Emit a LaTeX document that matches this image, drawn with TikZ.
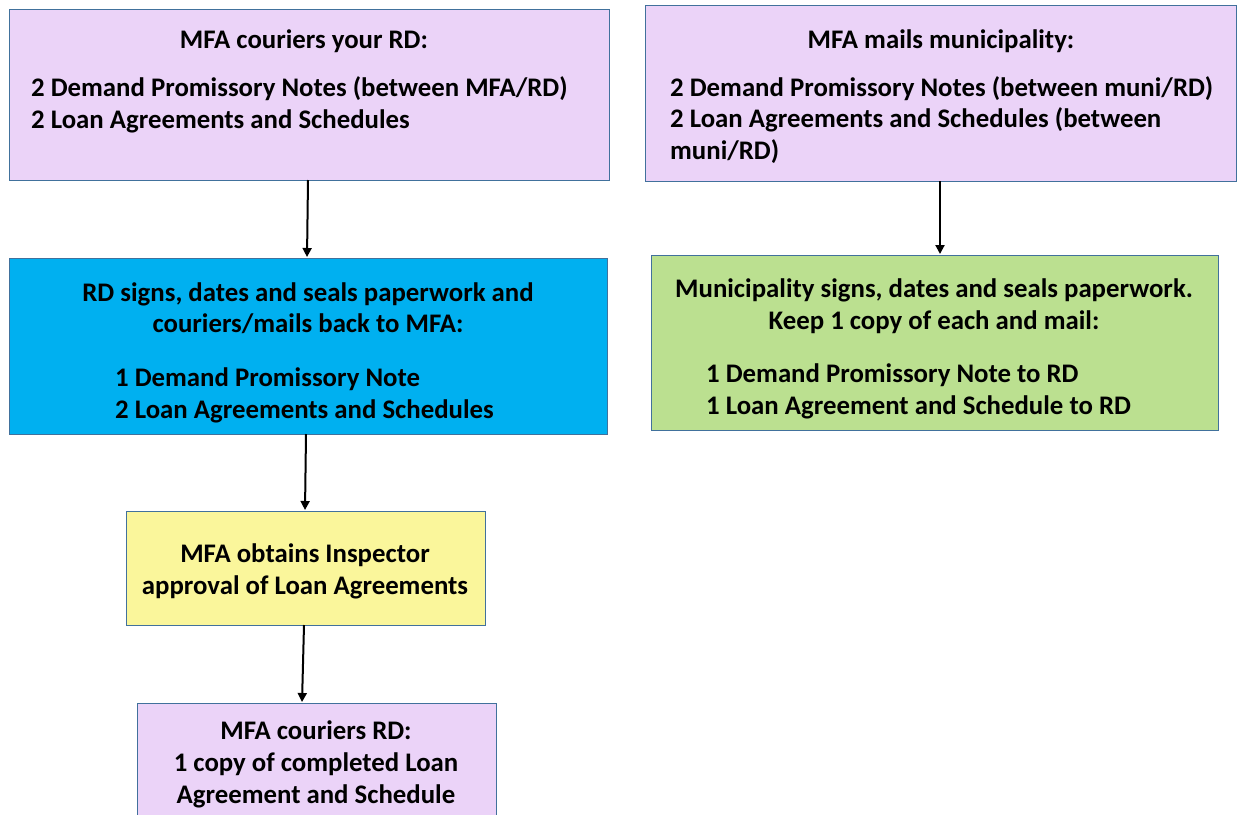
\documentclass[tikz,border=0pt]{standalone}
\usepackage{fontspec}
\setmainfont{Carlito}
\usetikzlibrary{arrows.meta}
\definecolor{lav}{HTML}{EBD3F8}
\definecolor{skyb}{HTML}{00B0F0}
\definecolor{yel}{HTML}{FAF69B}
\definecolor{grn}{HTML}{BBE090}
\definecolor{edge}{HTML}{41719C}
\tikzset{
  box/.style={draw=edge, line width=1pt, rectangle, inner sep=0pt, outer sep=0pt},
  txt/.style={inner sep=0pt, font=\fontsize{26.8}{32}\selectfont\bfseries},
  arr/.style={line width=2pt, -{Triangle[length=9pt,width=9pt]}, shorten >=1pt},
}
\begin{document}
\begin{tikzpicture}[x=1pt,y=-1pt]
\useasboundingbox[fill=white] (0,0) rectangle (1239,814);
% boxes
\node[box, fill=lav, minimum width=600pt, minimum height=171pt] (b1) at (309,94.5) {};
\node[box, fill=skyb, minimum width=598pt, minimum height=176pt] (b2) at (308,346) {};
\node[box, fill=yel, minimum width=359pt, minimum height=114pt] (b3) at (305.5,568) {};
\node[box, fill=lav, minimum width=359pt, minimum height=130pt] (b4) at (316.5,768) {};
\node[box, fill=lav, minimum width=591pt, minimum height=176pt] (b5) at (940.5,93) {};
\node[box, fill=grn, minimum width=567pt, minimum height=175pt] (b6) at (934.5,342.5) {};
% texts box 1
\node[txt, anchor=base] (t1a) at (304,48) {MFA couriers your RD:};
\node[txt, anchor=base west] (t1b) at (31,96) {2 Demand Promissory Notes (between MFA/RD)};
\node[txt, anchor=base west] (t1c) at (31,128) {2 Loan Agreements and Schedules};
% box 5
\node[txt, anchor=base] (t5a) at (941,48) {MFA mails municipality:};
\node[txt, anchor=base west] (t5b) at (670,96) {2 Demand Promissory Notes (between muni/RD)};
\node[txt, anchor=base west] (t5c) at (670,127) {2 Loan Agreements and Schedules (between};
\node[txt, anchor=base west] (t5d) at (670,159) {muni/RD)};
% box 2
\node[txt, anchor=base] (t2a) at (308,301) {RD signs, dates and seals paperwork and};
\node[txt, anchor=base] (t2b) at (308,332) {couriers/mails back to MFA:};
\node[txt, anchor=base west] (t2c) at (115,386) {1 Demand Promissory Note};
\node[txt, anchor=base west] (t2d) at (115,418) {2 Loan Agreements and Schedules};
% box 6
\node[txt, anchor=base] (t6a) at (934,297) {Municipality signs, dates and seals paperwork.};
\node[txt, anchor=base] (t6b) at (934,329) {Keep 1 copy of each and mail:};
\node[txt, anchor=base west] (t6c) at (706,382) {1 Demand Promissory Note to RD};
\node[txt, anchor=base west] (t6d) at (706,414) {1 Loan Agreement and Schedule to RD};
% box 3
\node[txt, anchor=base] (t3a) at (305,562) {MFA obtains Inspector};
\node[txt, anchor=base] (t3b) at (305,594) {approval of Loan Agreements};
% box 4
\node[txt, anchor=base] (t4a) at (316,739) {MFA couriers RD:};
\node[txt, anchor=base] (t4b) at (316,771) {1 copy of completed Loan};
\node[txt, anchor=base] (t4c) at (316,803) {Agreement and Schedule};
% arrows
\draw[arr] ([xshift=-1pt]b1.south) -- ([xshift=-1pt]b2.north);
\draw[arr] ([xshift=-2pt]b2.south) -- ([xshift=-0.5pt]b3.north);
\draw[arr] ([xshift=-1.5pt]b3.south) -- ([xshift=-14.5pt]b4.north);
\draw[arr] ([xshift=-0.5pt]b5.south) -- ([xshift=5.5pt]b6.north);
\end{tikzpicture}
\end{document}
